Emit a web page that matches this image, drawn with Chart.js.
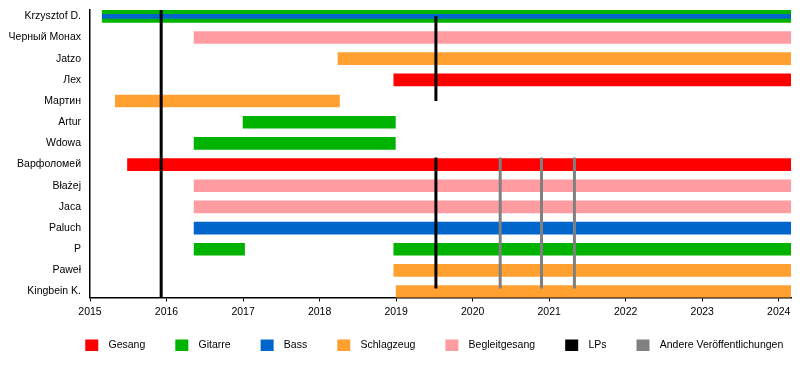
<!DOCTYPE html>
<html>
<head>
<meta charset="utf-8">
<script src="https://cdn.jsdelivr.net/npm/chart.js@4"></script>
<style>
  html, body { margin: 0; padding: 0; background: #fff; }
</style>
</head>
<body>
<canvas id="timeline" width="800" height="366"></canvas>
<script>
// band members, top to bottom
const members = ['Krzysztof D.', 'Черный Монах', 'Jatzo', 'Лех', 'Мартин', 'Artur', 'Wdowa',
  'Варфоломей', 'Błażej', 'Jaca', 'Paluch', 'P', 'Paweł', 'Kingbein K.'];

const END = 2024.16; // end of the timeline
const years = [2015, 2016, 2017, 2018, 2019, 2020, 2021, 2022, 2023, 2024];

// [row, from, to]
const gesang = [[3, 2018.97, END], [7, 2015.49, END]];
const gitarre = [[0, 2015.16, END], [5, 2017.0, 2018.99], [6, 2016.36, 2018.99],
  [11, 2016.36, 2017.02], [11, 2018.97, END]];
const bass = [[10, 2016.36, END]];
const bassInner = [[0, 2015.16, END]]; // thin bass stripe inside the guitar bar
const schlagzeug = [[2, 2018.24, END], [4, 2015.33, 2018.26], [12, 2018.97, END], [13, 2019.0, END]];
const begleitgesang = [[1, 2016.36, END], [8, 2016.36, END], [9, 2016.36, END]];

// release markers: [date, fromRow, toRow]
const lps = [[2015.93, -0.3, 13.28], [2019.52, 0, 4], [2019.52, 6.67, 12.86]];
const andere = [[2020.36, 6.67, 12.86], [2020.90, 6.67, 12.86], [2021.33, 6.67, 12.86]];

const legendNames = ['Gesang', 'Gitarre', 'Bass', 'Schlagzeug', 'Begleitgesang', 'LPs', 'Andere Veröffentlichungen'];
const colors = ['#ff0000', '#00b300', '#0066cc', '#ffa030', '#ff9ca2', '#000000', '#808080'];

function bars(rows, color, thickness) {
  return {
    type: 'bar',
    data: rows.map(r => ({ x: [r[1], r[2]], y: r[0] })),
    backgroundColor: color,
    barThickness: thickness,
    grouped: false,
    borderWidth: 0,
    order: thickness < 12 ? 1 : 2
  };
}

function markers(list, color) {
  return list.map(m => ({
    type: 'line',
    data: [{ x: m[0], y: m[1] }, { x: m[0], y: m[2] }],
    borderColor: color,
    borderWidth: 3,
    pointRadius: 0,
    order: 0
  }));
}

// legend swatch: item slot of SLOT px, 13px box at its right end
const SLOT = 48;
function swatch(color) {
  const c = document.createElement('canvas');
  c.width = SLOT;
  c.height = 13;
  if (color) {
    const g = c.getContext('2d');
    g.fillStyle = color;
    g.fillRect(SLOT - 18, 0, 13, 13);
  }
  return c;
}

Chart.defaults.font.family = "'Liberation Sans', Arial, sans-serif";
Chart.defaults.font.size = 10.5;
Chart.defaults.color = '#000';

const ctx = document.getElementById('timeline').getContext('2d');
new Chart(ctx, {
  type: 'bar',
  data: {
    datasets: [
      bars(gesang, colors[0], 12),
      bars(gitarre, colors[1], 12),
      bars(bass, colors[2], 12),
      bars(bassInner, colors[2], 4),
      bars(schlagzeug, colors[3], 12),
      bars(begleitgesang, colors[4], 12),
      ...markers(lps, colors[5]),
      ...markers(andere, colors[6])
    ]
  },
  options: {
    indexAxis: 'y',
    responsive: false,
    animation: false,
    layout: { padding: { top: 10, right: 9, bottom: 6, left: 2 } },
    scales: {
      x: {
        type: 'linear',
        position: 'bottom',
        min: 2015,
        max: END,
        afterBuildTicks: s => { s.ticks = years.map(v => ({ value: v })); },
        afterFit: s => { s.height = 42; },
        ticks: { padding: 4, callback: v => String(v), autoSkip: false, maxRotation: 0 },
        grid: { display: true, drawOnChartArea: false, drawTicks: true, tickLength: 4, color: '#000' },
        border: { display: true, color: '#000', width: 1.5 }
      },
      y: {
        type: 'linear',
        position: 'left',
        reverse: true,
        offset: false,
        min: -0.3,
        max: 13.28,
        afterBuildTicks: s => { s.ticks = members.map((_, i) => ({ value: i })); },
        afterFit: s => { s.width = 88; },
        ticks: { padding: 0, autoSkip: false, callback: v => members[v] },
        // invisible tick marks keep the labels 9px away from the axis
        grid: { display: true, drawOnChartArea: false, drawTicks: true, tickLength: 9, color: 'transparent' },
        border: { display: true, color: '#000', width: 1.5 }
      }
    },
    plugins: {
      tooltip: { enabled: false },
      legend: {
        position: 'bottom',
        align: 'start',
        labels: {
          usePointStyle: true,
          pointStyleWidth: SLOT,
          padding: 0,
          color: '#000',
          // first entry is an empty spacer that pushes the row to the right
          generateLabels: () => [''].concat(legendNames).map((t, i) => ({
            text: t,
            pointStyle: swatch(i ? colors[i - 1] : null),
            fillStyle: i ? colors[i - 1] : 'transparent',
            strokeStyle: 'transparent',
            lineWidth: 0,
            hidden: false
          }))
        }
      }
    }
  }
});
</script>
</body>
</html>
